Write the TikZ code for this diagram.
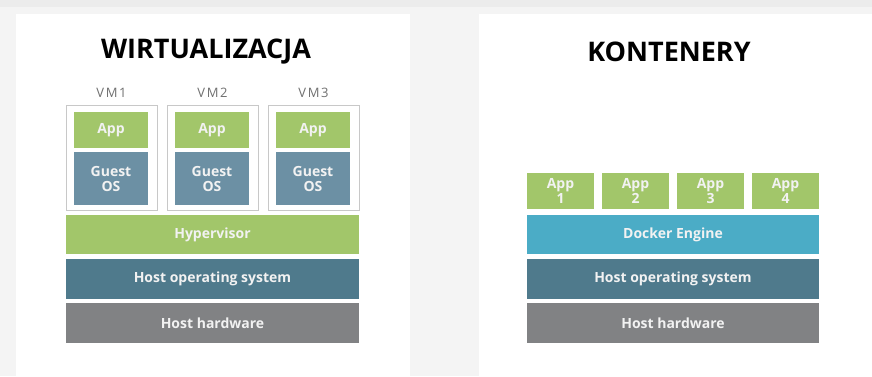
\documentclass[tikz,border=0pt]{standalone}
\usepackage{fontspec}
\setmainfont{Open Sans}
\definecolor{bg}{HTML}{F4F4F4}
\definecolor{topband}{HTML}{ECECEC}
\definecolor{appgreen}{HTML}{A2C66A}
\definecolor{guestos}{HTML}{6C90A4}
\definecolor{hostos}{HTML}{4F7A8C}
\definecolor{hw}{HTML}{818284}
\definecolor{docker}{HTML}{4BACC6}
\definecolor{vmframe}{HTML}{C8C8C8}
\definecolor{vmtext}{HTML}{707070}
\definecolor{boxtext}{HTML}{F2F2F2}
\tikzset{
  layer/.style={inner sep=0pt, text=boxtext, font=\fontsize{14}{15}\selectfont\bfseries, align=center},
  vmbox/.style={draw=vmframe, line width=0.8pt, fill=white},
  ttl/.style={font=\fontsize{27}{29}\selectfont\bfseries, text=black},
  vmlabel/.style={font=\fontsize{13}{14}\selectfont\addfontfeature{LetterSpace=12}, text=vmtext}
}
\begin{document}
\begin{tikzpicture}[x=1pt,y=-1pt]
\useasboundingbox (0,0) rectangle (872,376);
\fill[bg] (0,0) rectangle (872,376);
\fill[topband] (0,0) rectangle (872,7);
\fill[white] (16,14) rectangle (410,376);
\fill[white] (479,14) rectangle (872,376);

% Left panel
\node[ttl] (t1) at (206,52) {WIRTUALIZACJA};
\foreach \i/\x in {1/66,2/167,3/268}{
  \node[vmlabel] (vml\i) at (\x+45.5,93) {VM\i};
  \draw[vmbox] (\x,105) rectangle (\x+91,210);
  \fill[appgreen] (\x+8,112) rectangle (\x+82,148);
  \node[layer] (app\i) at (\x+45,130) {App};
  \fill[guestos] (\x+8,152) rectangle (\x+82,205);
  \node[layer] (gos\i) at (\x+45,178.5) {Guest\\OS};
}
\fill[appgreen] (66,215) rectangle (359,254);
\node[layer] (hyp) at (212.5,234.5) {Hypervisor};
\fill[hostos] (66,259) rectangle (359,299);
\node[layer] (hos1) at (212.5,279) {Host operating system};
\fill[hw] (66,303) rectangle (359,343);
\node[layer] (hw1) at (212.5,323) {Host hardware};

% Right panel
\node[ttl] (t2) at (669,52) {KONTENERY};
\foreach \i/\x in {1/527,2/602,3/677,4/752}{
  \fill[appgreen] (\x,173) rectangle (\x+67,209);
  \node[layer, font=\fontsize{14}{13}\selectfont\bfseries] (capp\i) at (\x+33.5,191) {App\\\i};
}
\fill[docker] (527,215) rectangle (819,254);
\node[layer] (dock) at (673,234.5) {Docker Engine};
\fill[hostos] (527,259) rectangle (819,299);
\node[layer] (hos2) at (673,279) {Host operating system};
\fill[hw] (527,303) rectangle (819,343);
\node[layer] (hw2) at (673,323) {Host hardware};
\end{tikzpicture}
\end{document}
